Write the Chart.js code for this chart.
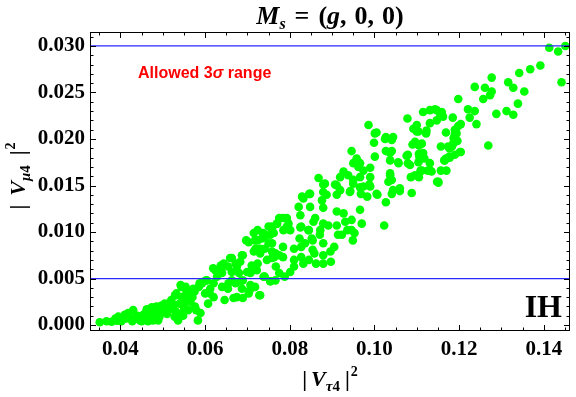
<!DOCTYPE html>
<html>
<head>
<meta charset="utf-8">
<script src="https://cdn.jsdelivr.net/npm/chart.js@4.4.0/dist/chart.umd.min.js"></script>
<style>
  html, body { margin: 0; padding: 0; background: #fff; }
</style>
</head>
<body>
<canvas id="chart" width="576" height="397"></canvas>
<script>
// |V_tau4|^2 (x) and |V_mu4|^2 (y)
const tauSq = [
  0.0351, 0.0367, 0.0379, 0.0391, 0.0402, 0.0414, 0.0418, 0.0430, 0.0434, 0.0446,
  0.0454, 0.0461, 0.0469, 0.0477, 0.0485, 0.0497, 0.0505, 0.0512, 0.0520, 0.0532,
  0.0544, 0.0540, 0.0552, 0.0560, 0.0575, 0.0587, 0.0579, 0.0583, 0.0536, 0.0528,
  0.0489, 0.0477, 0.0465, 0.0450, 0.0440, 0.0458, 0.0470, 0.0482, 0.0492, 0.0500,
  0.0488, 0.0474, 0.0462, 0.0510, 0.0518, 0.0525, 0.0530, 0.0545, 0.0550, 0.0556,
  0.0565, 0.0570, 0.0548, 0.0538, 0.0422, 0.0428, 0.0388, 0.0395, 0.0410,
  0.0628, 0.0637, 0.0654, 0.0672, 0.0680, 0.0689, 0.0672, 0.0654, 0.0646, 0.0667,
  0.0689, 0.0706, 0.0728, 0.0741, 0.0754, 0.0775, 0.0788, 0.0801, 0.0810, 0.0767,
  0.0724, 0.0611, 0.0607, 0.0589, 0.0576, 0.0559, 0.0542, 0.0529, 0.0554, 0.0572,
  0.0602, 0.0585, 0.0620, 0.0550, 0.0533,
  0.0530, 0.0546, 0.0573, 0.0561, 0.0593, 0.0604, 0.0612, 0.0600, 0.0620, 0.0624,
  0.0640, 0.0644, 0.0659, 0.0663, 0.0675, 0.0687, 0.0683, 0.0640, 0.0655, 0.0663,
  0.0683, 0.0687, 0.0707, 0.0718, 0.0730, 0.0703, 0.0675, 0.0699, 0.0707, 0.0703,
  0.0718, 0.0730, 0.0738, 0.0750, 0.0754, 0.0758, 0.0770, 0.0730, 0.0746, 0.0758,
  0.0738, 0.0754, 0.0766, 0.0722, 0.0766, 0.0710,
  0.0619, 0.0637, 0.0663, 0.0689, 0.0715, 0.0724, 0.0697, 0.0741, 0.0758, 0.0763,
  0.0784, 0.0810, 0.0827, 0.0854, 0.0862, 0.0879, 0.0896, 0.0905, 0.0879, 0.0827,
  0.0810, 0.0823, 0.0854, 0.0801, 0.0784, 0.0793, 0.0827, 0.0845, 0.0879, 0.0949,
  0.0914, 0.0936, 0.0970, 0.1023, 0.0983, 0.1005, 0.1044, 0.1105, 0.1109, 0.1126,
  0.1131, 0.1118, 0.1105, 0.1105, 0.1079, 0.1079, 0.1057, 0.1157, 0.1170, 0.1157,
  0.1187, 0.1148, 0.0724, 0.0715, 0.0750, 0.0737, 0.0775, 0.0719, 0.0741, 0.0758,
  0.0784, 0.0775, 0.0836, 0.0871, 0.0858, 0.0845, 0.0832, 0.0879, 0.0897, 0.0953,
  0.1001, 0.1027, 0.1044, 0.1100, 0.1122, 0.1169, 0.1196, 0.1183, 0.1204, 0.1169,
  0.1269, 0.1088, 0.1027,
  0.0946, 0.0950, 0.0958, 0.0927, 0.0919, 0.0950, 0.0911, 0.0919, 0.0911, 0.0942,
  0.0868, 0.0883, 0.0879, 0.0887, 0.0876, 0.0879, 0.0848, 0.0832, 0.0848, 0.0821,
  0.0825, 0.0860, 0.0856, 0.0911, 0.0927, 0.0946, 0.0891, 0.0911, 0.0931, 0.0946,
  0.0923, 0.0872, 0.0844, 0.0825, 0.0852, 0.0793, 0.0770, 0.0758, 0.0797, 0.0785,
  0.0762, 0.0742, 0.0734, 0.0966,
  0.1155, 0.1147, 0.1159, 0.1162, 0.1131, 0.1115, 0.1147, 0.1131, 0.1123, 0.1100,
  0.1092, 0.1104, 0.1078, 0.0986, 0.1005, 0.1025, 0.1041, 0.0999, 0.1027, 0.1041,
  0.1090, 0.1112, 0.1115, 0.1106, 0.1076, 0.1056, 0.1084, 0.1104, 0.1112, 0.1096,
  0.1131, 0.1151, 0.1166, 0.1177, 0.1174, 0.1037, 0.1041, 0.1033, 0.1001, 0.0990,
  0.0974, 0.0962, 0.0966, 0.0990, 0.0950, 0.0974, 0.0990, 0.1060,
  0.1342, 0.1277, 0.1316, 0.1328, 0.1237, 0.1261, 0.1277, 0.1273, 0.1257, 0.1198,
  0.1221, 0.1237, 0.1288, 0.1312, 0.1328, 0.1339, 0.1225, 0.1241, 0.1185, 0.1198,
  0.1190, 0.1194,
  0.1413, 0.1434, 0.1451, 0.1442, 0.1392, 0.1368, 0.1354, 0.1204, 0.1190, 0.1177,
  0.1186, 0.1202, 0.1190, 0.1165, 0.1178, 0.1151, 0.1143, 0.1135, 0.1096, 0.1086,
  0.1037, 0.1037, 0.0966, 0.0938, 0.0879, 0.0907, 0.0943, 0.0966, 0.0968, 0.0988,
  0.1007, 0.1041, 0.1060, 0.1037, 0.0829, 0.0846
];
const muSq = [
  0.0003, 0.0004, 0.00035, 0.00046, 0.0004, 0.0007, 0.0013, 0.0016, 0.0007, 0.0005,
  0.0011, 0.0014, 0.0013, 0.0016, 0.0020, 0.0021, 0.0023, 0.0020, 0.0027, 0.0034,
  0.0041, 0.0023, 0.0027, 0.0016, 0.0036, 0.0045, 0.0016, 0.0005, 0.0005, 0.0009,
  0.0005, 0.0005, 0.0004, 0.0004, 0.0010, 0.0008, 0.0009, 0.0012, 0.0009, 0.0015,
  0.0017, 0.0019, 0.0017, 0.0012, 0.0017, 0.0022, 0.0015, 0.0030, 0.0020, 0.0035,
  0.0025, 0.0030, 0.0010, 0.0012, 0.0008, 0.0004, 0.0007, 0.0009, 0.0011,
  0.0052, 0.0059, 0.0063, 0.0066, 0.0056, 0.0048, 0.0045, 0.0039, 0.0027, 0.0029,
  0.0029, 0.0038, 0.0032, 0.0052, 0.0047, 0.0056, 0.0052, 0.0057, 0.0063, 0.0063,
  0.0066, 0.0034, 0.0023, 0.0013, 0.0020, 0.0027, 0.0043, 0.0032, 0.0041, 0.0039,
  0.0048, 0.0041, 0.0045, 0.0016, 0.0009,
  0.0032, 0.0041, 0.0038, 0.0030, 0.0045, 0.0048, 0.0039, 0.0034, 0.0030, 0.0059,
  0.0056, 0.0066, 0.0072, 0.0057, 0.0063, 0.0075, 0.0068, 0.0041, 0.0045, 0.0048,
  0.0047, 0.0039, 0.0043, 0.0041, 0.0032, 0.0034, 0.0030, 0.0057, 0.0056, 0.0089,
  0.0091, 0.0082, 0.0097, 0.0088, 0.0097, 0.0106, 0.0109, 0.0077, 0.0070, 0.0072,
  0.0052, 0.0047, 0.0048, 0.0059, 0.0077, 0.0064,
  0.0061, 0.0064, 0.0072, 0.0075, 0.0079, 0.0091, 0.0091, 0.0095, 0.0088, 0.0073,
  0.0073, 0.0070, 0.0073, 0.0081, 0.0066, 0.0075, 0.0079, 0.0084, 0.0088, 0.0084,
  0.0082, 0.0093, 0.0091, 0.0102, 0.0115, 0.0106, 0.0106, 0.0102, 0.0109, 0.0091,
  0.0097, 0.0102, 0.0109, 0.0107, 0.0138, 0.0141, 0.0145, 0.0159, 0.0166, 0.0166,
  0.0174, 0.0179, 0.0184, 0.0193, 0.0183, 0.0174, 0.0174, 0.0166, 0.0166, 0.0192,
  0.0201, 0.0154, 0.0102, 0.0099, 0.0106, 0.0099, 0.0115, 0.0082, 0.0082, 0.0079,
  0.0084, 0.0075, 0.0088, 0.0097, 0.0077, 0.0070, 0.0066, 0.0066, 0.0068, 0.0099,
  0.0206, 0.0202, 0.0202, 0.0208, 0.0206, 0.0207, 0.0198, 0.0192, 0.0186, 0.0179,
  0.0193, 0.0142, 0.0132,
  0.0187, 0.0174, 0.0179, 0.0165, 0.0159, 0.0152, 0.0150, 0.0145, 0.0140, 0.0143,
  0.0158, 0.0152, 0.0143, 0.0140, 0.0134, 0.0126, 0.0141, 0.0136, 0.0127, 0.0127,
  0.0118, 0.0115, 0.0111, 0.0122, 0.0120, 0.0113, 0.0107, 0.0107, 0.0111, 0.0102,
  0.0097, 0.0102, 0.0102, 0.0105, 0.0093, 0.0115, 0.0109, 0.0104, 0.0109, 0.0102,
  0.0099, 0.0097, 0.0093, 0.0124,
  0.0227, 0.0231, 0.0229, 0.0224, 0.0231, 0.0229, 0.0220, 0.0217, 0.0209, 0.0215,
  0.0211, 0.0208, 0.0222, 0.0215, 0.0207, 0.0200, 0.0199, 0.0196, 0.0187, 0.0187,
  0.0194, 0.0195, 0.0185, 0.0181, 0.0182, 0.0175, 0.0172, 0.0175, 0.0166, 0.0161,
  0.0166, 0.0154, 0.0177, 0.0181, 0.0192, 0.0163, 0.0156, 0.0154, 0.0181, 0.0169,
  0.0166, 0.0170, 0.0159, 0.0159, 0.0156, 0.0149, 0.0149, 0.0147,
  0.0271, 0.0266, 0.0261, 0.0255, 0.0256, 0.0255, 0.0251, 0.0247, 0.0243, 0.0243,
  0.0232, 0.0230, 0.0227, 0.0230, 0.0226, 0.0238, 0.0223, 0.0216, 0.0223, 0.0214,
  0.0210, 0.0206,
  0.0298, 0.0294, 0.0300, 0.0261, 0.0279, 0.0275, 0.0251, 0.0216, 0.0205, 0.0190,
  0.0195, 0.0186, 0.0183, 0.0177, 0.0180, 0.0153, 0.0232, 0.0165, 0.0197, 0.0159,
  0.0185, 0.0177, 0.0174, 0.0161, 0.0151, 0.0151, 0.0144, 0.0148, 0.0141, 0.0151,
  0.0140, 0.0141, 0.0144, 0.0161, 0.0138, 0.0141
];

const xTicks = [0.04, 0.06, 0.08, 0.10, 0.12, 0.14];
const yTicks = [0.000, 0.005, 0.010, 0.015, 0.020, 0.025, 0.030];
const xRange = [0.0328, 0.1462];
const yRange = [-0.00064, 0.0315];
const sigmaBounds = [0.005, 0.030];

const SERIF = '"Liberation Serif", "Times New Roman", serif';
const SANS = '"Liberation Sans", Arial, sans-serif';

const points = tauSq.map((x, i) => ({ x: x, y: muSq[i] }));
const boundLine = (v) => [{ x: xRange[0], y: v }, { x: xRange[1], y: v }];

// draw a run of text pieces with different fonts; gap = extra space before a piece
function drawRich(ctx, parts, x, y, align) {
    let w = 0;
    parts.forEach(p => {
        ctx.font = p.font;
        p.w = ctx.measureText(p.t).width;
        w += p.w + (p.gap || 0);
    });
    let cx = align === 'center' ? x - w / 2 : (align === 'right' ? x - w : x);
    parts.forEach(p => {
        cx += p.gap || 0;
        ctx.font = p.font;
        ctx.fillText(p.t, cx, y + (p.dy || 0));
        cx += p.w;
    });
}

function absLabel(sub, pad) {
    return [
        { t: '|', font: `bold 22px ${SERIF}` },
        { t: 'V', font: `italic bold 22px ${SERIF}`, gap: pad },
        { t: sub, font: `italic bold 15px ${SERIF}`, dy: 5 },
        { t: '4', font: `bold 15px ${SERIF}`, dy: 5 },
        { t: '|', font: `bold 22px ${SERIF}`, gap: pad + 1 },
        { t: '2', font: `bold 14px ${SERIF}`, dy: -10, gap: 1 }
    ];
}

const decorations = {
    id: 'decorations',
    afterDraw(chart) {
        const ctx = chart.ctx;
        const area = chart.chartArea;
        const xs = chart.scales.x, ys = chart.scales.y;
        ctx.save();
        ctx.textAlign = 'left';
        ctx.textBaseline = 'alphabetic';

        // frame
        ctx.strokeStyle = '#000';
        ctx.lineWidth = 1;
        ctx.strokeRect(Math.round(area.left) + 0.5, Math.round(area.top) + 0.5,
            Math.round(area.right - area.left) - 1, Math.round(area.bottom - area.top) - 1);

        // inward ticks on all four sides
        ctx.beginPath();
        for (let v = 0.035; v <= xRange[1]; v += 0.005) {
            const major = xTicks.some(t => Math.abs(t - v) < 1e-6);
            const len = major ? 6 : 3.5;
            const px = Math.round(xs.getPixelForValue(v)) + 0.5;
            ctx.moveTo(px, area.bottom); ctx.lineTo(px, area.bottom - len);
            ctx.moveTo(px, area.top); ctx.lineTo(px, area.top + len);
        }
        for (let v = 0; v <= yRange[1]; v += 0.001) {
            const major = yTicks.some(t => Math.abs(t - v) < 1e-6);
            const len = major ? 6 : 3.5;
            const py = Math.round(ys.getPixelForValue(v)) + 0.5;
            ctx.moveTo(area.left, py); ctx.lineTo(area.left + len, py);
            ctx.moveTo(area.right, py); ctx.lineTo(area.right - len, py);
        }
        ctx.stroke();

        ctx.fillStyle = '#000';
        const cx = (area.left + area.right) / 2;
        // title
        const tf = `bold 26px ${SERIF}`, tfi = `italic bold 26px ${SERIF}`;
        drawRich(ctx, [
            { t: 'M', font: tfi },
            { t: 's', font: `italic bold 16px ${SERIF}`, dy: 5 },
            { t: '=', font: tf, gap: 9 },
            { t: '(', font: tf, gap: 9 },
            { t: 'g', font: tfi },
            { t: ',', font: tf },
            { t: '0', font: tf, gap: 8 },
            { t: ',', font: tf },
            { t: '0)', font: tf, gap: 8 }
        ], cx, 24, 'center');

        // x axis title
        drawRich(ctx, absLabel('τ', 4), cx, 386, 'center');

        // y axis title
        ctx.save();
        ctx.translate(25, 176);
        ctx.rotate(-Math.PI / 2);
        drawRich(ctx, absLabel('μ', 9), 0, 0, 'center');
        ctx.restore();

        // annotations
        ctx.fillStyle = '#ff0000';
        drawRich(ctx, [
            { t: 'Allowed 3', font: `bold 16px ${SANS}` },
            { t: 'σ', font: `italic bold 16px ${SANS}` },
            { t: ' range', font: `bold 16px ${SANS}` }
        ], 138, 78, 'left');

        ctx.fillStyle = '#000';
        ctx.font = `bold 32px ${SERIF}`;
        ctx.textAlign = 'right';
        ctx.fillText('IH', 562, 317);
        ctx.restore();
    }
};

new Chart(document.getElementById('chart'), {
    type: 'scatter',
    data: {
        datasets: [
            {
                data: boundLine(sigmaBounds[0]),
                showLine: true, borderColor: '#2a2aff', borderWidth: 1.2,
                pointRadius: 0, fill: false
            },
            {
                data: boundLine(sigmaBounds[1]),
                showLine: true, borderColor: '#2a2aff', borderWidth: 1.2,
                pointRadius: 0, fill: false
            },
            {
                data: points,
                backgroundColor: '#00ff00',
                borderWidth: 0,
                pointRadius: 4.3
            }
        ]
    },
    options: {
        responsive: false,
        animation: false,
        devicePixelRatio: 1,
        layout: { padding: { top: 32, right: 6, left: 0, bottom: 0 } },
        plugins: { legend: { display: false }, tooltip: { enabled: false } },
        scales: {
            x: {
                type: 'linear', min: xRange[0], max: xRange[1],
                grid: { display: false, drawTicks: false },
                border: { display: false },
                afterBuildTicks: (s) => { s.ticks = xTicks.map(v => ({ value: v })); },
                afterFit: (s) => { s.height = 66; },
                ticks: {
                    color: '#000', padding: 6, maxRotation: 0,
                    font: { family: SERIF, size: 21, weight: 'bold' },
                    callback: (v) => v.toFixed(2)
                }
            },
            y: {
                type: 'linear', min: yRange[0], max: yRange[1],
                grid: { display: false, drawTicks: false },
                border: { display: false },
                afterBuildTicks: (s) => { s.ticks = yTicks.map(v => ({ value: v })); },
                afterFit: (s) => { s.width = 90; },
                ticks: {
                    color: '#000', padding: 5,
                    font: { family: SERIF, size: 21, weight: 'bold' },
                    callback: (v) => v.toFixed(3)
                }
            }
        }
    },
    plugins: [decorations]
});
</script>
</body>
</html>
